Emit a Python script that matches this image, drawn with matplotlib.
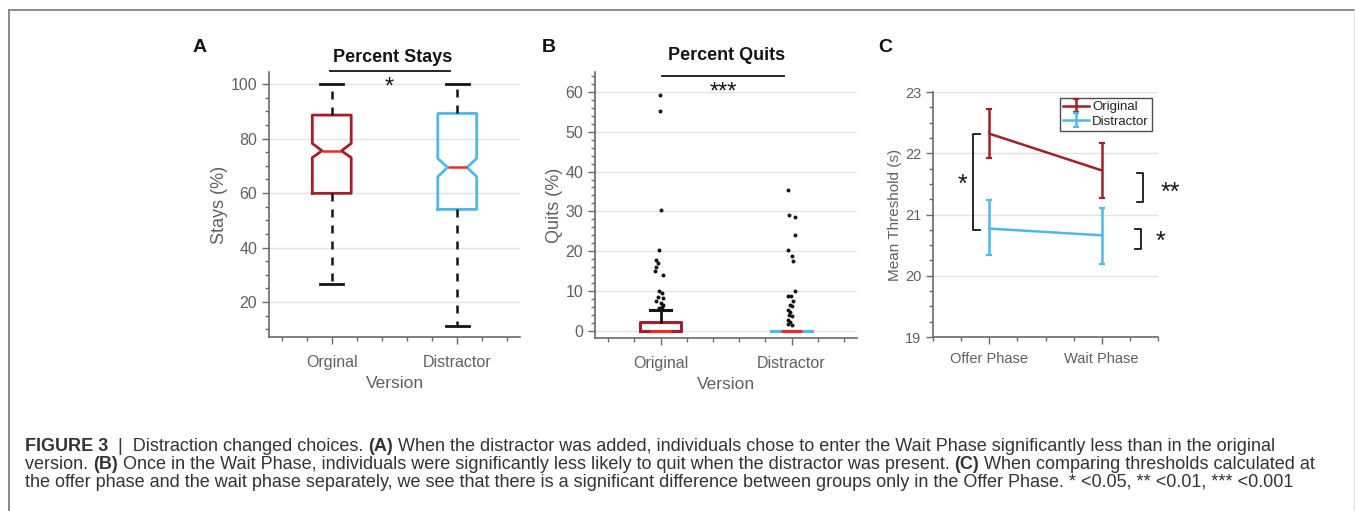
import matplotlib
matplotlib.use('Agg')
import matplotlib.pyplot as plt
from matplotlib.ticker import MultipleLocator
from matplotlib.lines import Line2D

W, H, DPI = 1355, 511, 100

# ---------------- Panel A: Percent Stays ----------------
stay_versions = ['Orginal', 'Distractor']
stay_median = [75.5, 69.4]
stay_q1 = [59.9, 54.0]
stay_q3 = [88.6, 89.2]
stay_notch_lo = [73.0, 66.0]
stay_notch_hi = [78.2, 72.7]
stay_whisker_lo = [26.6, 11.4]
stay_whisker_hi = [100.0, 100.0]

# ---------------- Panel B: Percent Quits ----------------
quit_versions = ['Original', 'Distractor']
quit_median = [0.0, 0.0]
quit_q1 = [0.0, 0.0]
quit_q3 = [2.1, 0.0]
quit_whisker_lo = [0.0, 0.0]
quit_whisker_hi = [5.3, 0.0]
quit_outliers_original = [59.3, 55.2, 30.3, 20.3, 17.8, 17.1, 16.1, 14.9, 14.1,
                          9.9, 9.5, 8.6, 8.2, 7.4, 6.9, 6.5, 6.1, 5.7]
quit_jitter_original = [-0.3, -0.3, 0.7, -1.0, -4.3, -2.0, -4.0, -5.0, 2.0,
                        -1.0, 1.0, -2.0, 2.0, -4.0, 0.0, 2.0, 1.0, -1.0]
quit_outliers_distractor = [35.3, 29.2, 28.6, 24.0, 20.2, 18.8, 17.6, 9.9, 8.8, 8.8,
                            7.6, 6.5, 6.2, 5.3, 4.8, 4.0, 3.6, 2.8, 2.3, 1.8, 1.5]
quit_jitter_distractor = [-3.0, -2.0, 3.0, 3.0, -3.0, 0.3, 1.0, 3.7, -3.0, -0.3,
                          1.0, -1.7, 0.0, -3.0, -1.0, -2.3, 0.0, -3.7, -1.7, -3.0, 0.0]

# ---------------- Panel C: Mean Threshold ----------------
phases = ['Offer Phase', 'Wait Phase']
orig_mean = [22.32, 21.72]
orig_lo = [21.92, 21.27]
orig_hi = [22.73, 22.17]
dist_mean = [20.77, 20.66]
dist_lo = [20.34, 20.20]
dist_hi = [21.23, 21.11]

DARKRED = '#a31f2b'
BLUE = '#4cb9e9'
MEDRED = '#ec2a2c'
AXC = '#6a6a6a'
TXT = '#606060'
GRID = '#e3e3e3'
FONT = ['Liberation Sans', 'DejaVu Sans']

plt.rcParams['font.family'] = FONT

fig = plt.figure(figsize=(W / DPI, H / DPI), dpi=DPI)


def px_axes(l, t, r, b):
    return fig.add_axes([l / W, 1 - b / H, (r - l) / W, (b - t) / H])


def style_axes(ax, tick_fs):
    for s in ['top', 'right']:
        ax.spines[s].set_visible(False)
    for s in ['left', 'bottom']:
        ax.spines[s].set_color(AXC)
        ax.spines[s].set_linewidth(1.2)
    ax.tick_params(which='both', direction='out', colors=AXC, labelcolor=TXT,
                   labelsize=tick_fs, width=1.0)
    ax.tick_params(which='major', length=5)
    ax.tick_params(which='minor', length=3)
    ax.yaxis.grid(True, which='major', color=GRID, lw=1.0)
    ax.set_axisbelow(True)


def make_stats(med, q1, q3, lo, hi, clo, chi):
    return [dict(med=med[i], q1=q1[i], q3=q3[i], whislo=lo[i], whishi=hi[i],
                 cilo=clo[i], cihi=chi[i], fliers=[]) for i in range(len(med))]


def fig_text_px(x, y, s, **kw):
    return fig.text(x / W, 1 - y / H, s, **kw)


# ================= Panel A =================
axA = px_axes(269, 72, 520, 337)
style_axes(axA, 11.5)
statsA = make_stats(stay_median, stay_q1, stay_q3, stay_whisker_lo, stay_whisker_hi,
                    stay_notch_lo, stay_notch_hi)
posA = [1, 2]
bA = axA.bxp(statsA, positions=posA, widths=0.31, shownotches=True, showfliers=False,
             patch_artist=False, capwidths=0.18,
             whiskerprops=dict(color='#151515', lw=1.8, linestyle=(0, (3.2, 3.2))),
             capprops=dict(color='#151515', lw=2.0),
             medianprops=dict(color=MEDRED, lw=1.8),
             boxprops=dict(lw=2.0))
for box, c in zip(bA['boxes'], [DARKRED, BLUE]):
    box.set_color(c)
axA.set_xlim(0.5, 2.5)
axA.set_ylim(7.2, 104.4)
axA.set_yticks([20, 40, 60, 80, 100])
axA.yaxis.set_minor_locator(MultipleLocator(5))
axA.xaxis.set_minor_locator(MultipleLocator(0.2))
axA.set_xticks(posA)
axA.set_xticklabels(stay_versions)
axA.tick_params(axis='x', which='major', pad=8)
axA.set_ylabel('Stays (%)', fontsize=13, color=TXT, labelpad=2)
axA.set_xlabel('Version', fontsize=12.5, color=TXT, labelpad=4)
fig_text_px(393, 57, 'Percent Stays', ha='center', va='center', fontsize=13,
            fontweight='bold', color='#151515')
axA.plot([0.985, 1.94], [104.8, 104.8], color='#151515', lw=1.3, clip_on=False)
axA.text(1.455, 98.6, '*', ha='center', va='center', fontsize=17, color='#151515')

# ================= Panel B =================
axB = px_axes(595, 72, 857, 338)
style_axes(axB, 11.5)
statsB = make_stats(quit_median, quit_q1, quit_q3, quit_whisker_lo, quit_whisker_hi,
                    quit_median, quit_median)
posB = [1, 2]
bB = axB.bxp(statsB, positions=posB, widths=0.31, shownotches=True, showfliers=False,
             capwidths=0.16,
             whiskerprops=dict(color='#151515', lw=2.0),
             capprops=dict(color='#151515', lw=2.2),
             medianprops=dict(color=MEDRED, lw=2.2),
             boxprops=dict(lw=2.2))
for box, c in zip(bB['boxes'], [DARKRED, BLUE]):
    box.set_color(c)
# hide the lower whisker caps (they coincide with the zero median)
for i, cap in enumerate(bB['caps']):
    if i % 2 == 0 or i >= 2:
        cap.set_visible(False)
for i, wh in enumerate(bB['whiskers']):
    if i % 2 == 0 or i >= 2:
        wh.set_visible(False)
for m in bB['medians']:
    m.set_zorder(4)
axB.scatter([posB[0] + j / 130 for j in quit_jitter_original], quit_outliers_original,
            s=8, color='#111111', zorder=5, linewidths=0)
axB.scatter([posB[1] + j / 130 for j in quit_jitter_distractor], quit_outliers_distractor,
            s=8, color='#111111', zorder=5, linewidths=0)
axB.set_xlim(0.5, 2.5)
axB.set_ylim(-1.8, 65.0)
axB.set_yticks([0, 10, 20, 30, 40, 50, 60])
axB.yaxis.set_minor_locator(MultipleLocator(2))
axB.xaxis.set_minor_locator(MultipleLocator(0.2))
axB.set_xticks(posB)
axB.set_xticklabels(quit_versions)
axB.tick_params(axis='x', which='major', pad=8)
axB.set_ylabel('Quits (%)', fontsize=13, color=TXT, labelpad=2)
axB.set_xlabel('Version', fontsize=12.5, color=TXT, labelpad=4)
fig_text_px(727, 56, 'Percent Quits', ha='center', va='center', fontsize=13,
            fontweight='bold', color='#151515')
axB.plot([1.015, 1.94], [64.0, 64.0], color='#151515', lw=1.3, clip_on=False)
axB.text(1.48, 59.8, '***', ha='center', va='center', fontsize=17, color='#151515')

# ================= Panel C =================
axC = px_axes(933, 92, 1158, 337)
style_axes(axC, 10.5)
xC = [1, 2]
axC.errorbar(xC, orig_mean,
             yerr=[[m - l for m, l in zip(orig_mean, orig_lo)],
                   [h - m for m, h in zip(orig_mean, orig_hi)]],
             color=DARKRED, lw=1.8, capsize=2.5, capthick=1.6, label='Original')
axC.errorbar(xC, dist_mean,
             yerr=[[m - l for m, l in zip(dist_mean, dist_lo)],
                   [h - m for m, h in zip(dist_mean, dist_hi)]],
             color=BLUE, lw=1.8, capsize=2.5, capthick=1.6, label='Distractor')
axC.set_xlim(0.5, 2.5)
axC.set_ylim(19, 23)
axC.set_yticks([19, 20, 21, 22, 23])
axC.yaxis.set_minor_locator(MultipleLocator(0.25))
axC.xaxis.set_minor_locator(MultipleLocator(0.25))
axC.set_xticks(xC)
axC.set_xticklabels(phases)
axC.tick_params(axis='x', which='major', pad=6)
axC.set_ylabel('Mean Threshold (s)', fontsize=11, color=TXT, labelpad=2)
leg = axC.legend(loc='upper right', bbox_to_anchor=(0.973, 0.976), borderaxespad=0,
                 fontsize=9.5, frameon=True, fancybox=False, handlelength=2.0,
                 handletextpad=0.2, borderpad=0.25, labelspacing=0.15)
leg.get_frame().set_edgecolor('#222222')
leg.get_frame().set_linewidth(1.0)
for t in leg.get_texts():
    t.set_color('#222222')


def bracket(ax, x, y0, y1, arm, text, tx, ty):
    ax.plot([x + arm, x, x, x + arm], [y0, y0, y1, y1], color='#151515', lw=1.3,
            clip_on=False)
    ax.text(tx, ty, text, ha='center', va='center', fontsize=18, color='#151515',
            clip_on=False)


bracket(axC, 0.855, orig_mean[0] - 0.01, dist_mean[0] - 0.03, 0.06, '*', 0.765, 21.48)
bracket(axC, 2.37, 21.68, 21.21, -0.055, '**', 2.61, 21.36)
bracket(axC, 2.35, 20.77, 20.44, -0.055, '*', 2.52, 20.55)

# ================= Panel letters =================
for lab, x in [('A', 200), ('B', 549), ('C', 885)]:
    fig_text_px(x, 47, lab, ha='center', va='center', fontsize=14,
                fontweight='bold', color='#111111')

# ================= Frame =================
fig.add_artist(Line2D([9 / W, 9 / W], [0, 1 - 10 / H], transform=fig.transFigure,
                      color='#8a8a8a', lw=1.4))
fig.add_artist(Line2D([9 / W, 1354 / W], [1 - 10 / H, 1 - 10 / H],
                      transform=fig.transFigure, color='#8a8a8a', lw=1.4))
fig.add_artist(Line2D([1353.5 / W, 1353.5 / W], [0, 1 - 10 / H],
                      transform=fig.transFigure, color='#e2e2e2', lw=1.0))

# ================= Caption =================
caption_lines = [
    [('FIGURE 3', True), ('  |  Distraction changed choices. ', False), ('(A)', True),
     (' When the distractor was added, individuals chose to enter the Wait Phase '
      'significantly less than in the original', False)],
    [('version. ', False), ('(B)', True),
     (' Once in the Wait Phase, individuals were significantly less likely to quit '
      'when the distractor was present. ', False), ('(C)', True),
     (' When comparing thresholds calculated at', False)],
    [('the offer phase and the wait phase separately, we see that there is a '
      'significant difference between groups only in the Offer Phase. '
      '* <0.05, ** <0.01, *** <0.001', False)],
]
CAP_FONT = ['Liberation Sans Narrow', 'Liberation Sans', 'DejaVu Sans']
cap_baselines = [451, 469, 487]
cap_x0 = 25
target_w = 1275 - 25

renderer = fig.canvas.get_renderer()


def draw_line(runs, y, fs, draw=True):
    x = cap_x0
    arts = []
    for s, bold in runs:
        t = fig_text_px(x, y, s, fontsize=fs, family=CAP_FONT,
                        fontweight='bold' if bold else 'normal', color='#333333',
                        va='baseline', ha='left')
        bb = t.get_window_extent(renderer)
        x += bb.width
        arts.append(t)
    if not draw:
        for a in arts:
            a.remove()
    return x - cap_x0


base_fs = 10.0
w0 = draw_line(caption_lines[0], cap_baselines[0], base_fs, draw=False)
cap_fs = base_fs * target_w / w0
for runs, y in zip(caption_lines, cap_baselines):
    draw_line(runs, y, cap_fs)

fig.savefig('out.png', dpi=DPI)
